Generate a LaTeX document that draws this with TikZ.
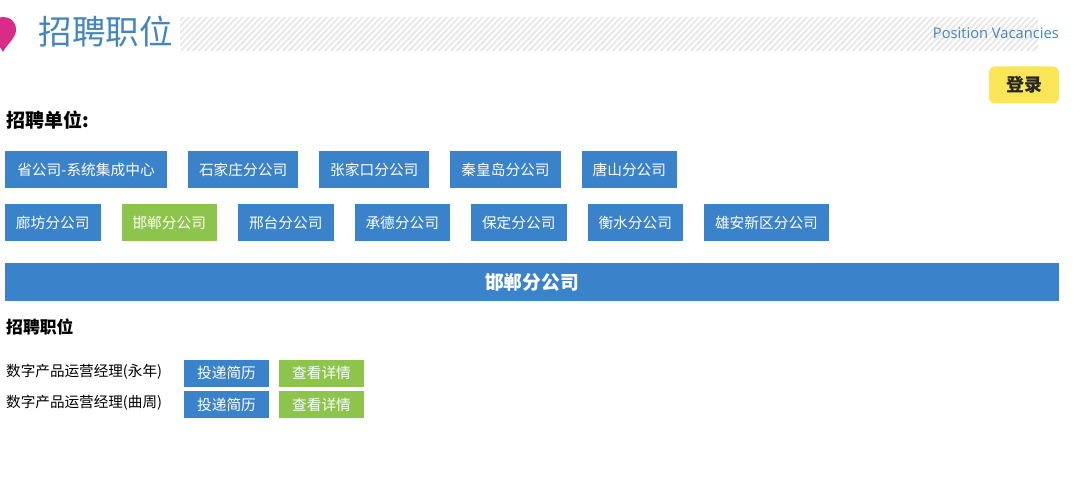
\documentclass[tikz,border=0pt]{standalone}
\usepackage{fontspec}
\setmainfont{Noto Sans CJK SC}
\newfontfamily\latinfont{Open Sans}
\usepackage{tikz}
\usetikzlibrary{positioning}
\definecolor{btnblue}{HTML}{3A82C9}
\definecolor{btngreen}{HTML}{8CC44C}
\definecolor{headblue}{HTML}{4485BC}
\definecolor{loginyellow}{HTML}{FBE658}
\definecolor{pinpink}{HTML}{D92C86}
\tikzset{
  unitbtn/.style={fill=btnblue,text=white,outer sep=0pt,minimum height=37pt,inner xsep=11pt,inner ysep=0pt,font=\fontsize{14.7}{16}\selectfont},
  unitact/.style={unitbtn,fill=btngreen},
  jobbtn/.style={fill=btnblue,text=white,outer sep=0pt,minimum width=85pt,minimum height=27pt,inner sep=0pt,font=\fontsize{14.7}{16}\selectfont},
  jobdetail/.style={jobbtn,fill=btngreen},
  caption/.style={anchor=west,inner sep=0pt,font=\fontsize{19}{20}\selectfont\bfseries},
  jobname/.style={anchor=west,inner sep=0pt,font=\fontsize{14.6}{16}\selectfont}
}
\begin{document}
\begin{tikzpicture}[x=1pt,y=-1pt,node distance=21pt]
    \useasboundingbox (0,0) rectangle (1080,492);
    % title bar
    \begin{scope}
        \clip (180,18) rectangle (1038,51);
        \foreach \i in {-48,-42,...,900}
            \draw[black!9,line width=2pt] (170+\i,56) -- (210+\i,14);
    \end{scope}
    \fill[pinpink] (3,52) .. controls (7,44) and (16,38) .. (16,30)
        .. controls (16,21) and (10,17) .. (3,17)
        .. controls (-4,17) and (-10,21) .. (-10,30)
        .. controls (-10,38) and (-1,44) .. (3,52) -- cycle;
    \node[anchor=west,inner sep=0pt,text=headblue,font=\fontsize{33.6}{36}\selectfont] (title) at (38.5,32) {招聘职位};
    \node[anchor=east,inner sep=0pt,text=headblue,font=\latinfont\fontsize{14.7}{16}\selectfont] (titleen) at (1059,33) {Position Vacancies};
    \node[fill=loginyellow,rounded corners=6pt,minimum width=70pt,minimum height=37pt,inner sep=0pt,font=\fontsize{18}{20}\selectfont\bfseries,text=black!85] (login) at (1024,85) {登录};
    \node[caption] (unitcap) at (6,120) {招聘单位:};
    % first row
    \node[unitbtn,anchor=west,minimum width=162pt] (u1) at (5,169.5) {省公司-系统集成中心};
    \node[unitbtn,right=of u1] (u2) {石家庄分公司};
    \node[unitbtn,right=of u2] (u3) {张家口分公司};
    \node[unitbtn,right=of u3] (u4) {秦皇岛分公司};
    \node[unitbtn,right=of u4] (u5) {唐山分公司};
    % second row
    \node[unitbtn,anchor=west] (v1) at (5,222.5) {廊坊分公司};
    \node[unitact,right=of v1] (v2) {邯郸分公司};
    \node[unitbtn,right=of v2] (v3) {邢台分公司};
    \node[unitbtn,right=of v3] (v4) {承德分公司};
    \node[unitbtn,right=of v4] (v5) {保定分公司};
    \node[unitbtn,right=of v5] (v6) {衡水分公司};
    \node[unitbtn,right=of v6] (v7) {雄安新区分公司};
    % banner
    \node[fill=btnblue,text=white,minimum width=1054pt,minimum height=38pt,inner sep=0pt,font=\fontsize{18.8}{20}\selectfont\bfseries] (banner) at (532,282) {邯郸分公司};
    \node[caption,font=\fontsize{16.8}{18}\selectfont\bfseries] (jobcap) at (6,327) {招聘职位};
    % jobs
    \node[jobname] (job1) at (6,371.5) {数字产品运营经理(永年)};
    \node[jobbtn] (send1) at (226.5,373) {投递简历};
    \node[jobdetail,right=10pt of send1] (more1) {查看详情};
    \node[jobname] (job2) at (6,402.5) {数字产品运营经理(曲周)};
    \node[jobbtn] (send2) at (226.5,404.5) {投递简历};
    \node[jobdetail,right=10pt of send2] (more2) {查看详情};
\end{tikzpicture}
\end{document}
